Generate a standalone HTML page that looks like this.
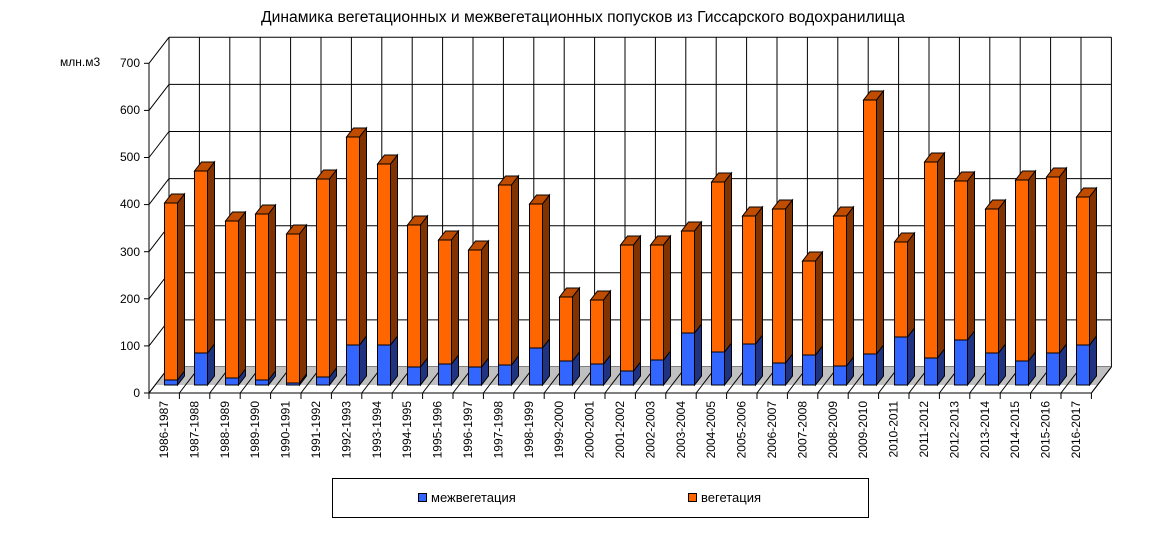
<!DOCTYPE html>
<html><head><meta charset="utf-8"><style>
html,body{margin:0;padding:0;background:#fff;}
svg{display:block;font-family:"Liberation Sans",sans-serif;}
</style></head><body>
<svg id="s" width="1151" height="547" viewBox="0 0 1151 547" xmlns="http://www.w3.org/2000/svg">
<rect width="1151" height="547" fill="#fff"/>
<text x="583" y="22" font-size="15.5" text-anchor="middle" textLength="644" lengthAdjust="spacingAndGlyphs">Динамика вегетационных и межвегетационных попусков из Гиссарского  водохранилища</text>
<text x="60" y="66" font-size="12">млн.м3</text>
<g id="grid"></g>
<g id="bars"></g>
<g font-size="12" text-anchor="end">
<text x="140" y="67">700</text>
<text x="140" y="114">600</text>
<text x="140" y="161">500</text>
<text x="140" y="208">400</text>
<text x="140" y="256">300</text>
<text x="140" y="303">200</text>
<text x="140" y="350">100</text>
<text x="140" y="397">0</text>
</g>
<g font-size="12" text-anchor="end">
<text transform="translate(168,401) rotate(-90)">1986-1987</text>
<text transform="translate(198.4,401) rotate(-90)">1987-1988</text>
<text transform="translate(228.8,401) rotate(-90)">1988-1989</text>
<text transform="translate(259.2,401) rotate(-90)">1989-1990</text>
<text transform="translate(289.6,401) rotate(-90)">1990-1991</text>
<text transform="translate(320,401) rotate(-90)">1991-1992</text>
<text transform="translate(350.4,401) rotate(-90)">1992-1993</text>
<text transform="translate(380.8,401) rotate(-90)">1993-1994</text>
<text transform="translate(411.2,401) rotate(-90)">1994-1995</text>
<text transform="translate(441.6,401) rotate(-90)">1995-1996</text>
<text transform="translate(472,401) rotate(-90)">1996-1997</text>
<text transform="translate(502.4,401) rotate(-90)">1997-1998</text>
<text transform="translate(532.8,401) rotate(-90)">1998-1999</text>
<text transform="translate(563.2,401) rotate(-90)">1999-2000</text>
<text transform="translate(593.6,401) rotate(-90)">2000-2001</text>
<text transform="translate(624,401) rotate(-90)">2001-2002</text>
<text transform="translate(654.4,401) rotate(-90)">2002-2003</text>
<text transform="translate(684.8,401) rotate(-90)">2003-2004</text>
<text transform="translate(715.2,401) rotate(-90)">2004-2005</text>
<text transform="translate(745.6,401) rotate(-90)">2005-2006</text>
<text transform="translate(776,401) rotate(-90)">2006-2007</text>
<text transform="translate(806.4,401) rotate(-90)">2007-2008</text>
<text transform="translate(836.8,401) rotate(-90)">2008-2009</text>
<text transform="translate(867.2,401) rotate(-90)">2009-2010</text>
<text transform="translate(897.6,401) rotate(-90)">2010-2011</text>
<text transform="translate(928,401) rotate(-90)">2011-2012</text>
<text transform="translate(958.4,401) rotate(-90)">2012-2013</text>
<text transform="translate(988.8,401) rotate(-90)">2013-2014</text>
<text transform="translate(1019.2,401) rotate(-90)">2014-2015</text>
<text transform="translate(1049.6,401) rotate(-90)">2015-2016</text>
<text transform="translate(1080,401) rotate(-90)">2016-2017</text>
</g>
<rect x="332.5" y="478.5" width="536" height="39" fill="#fff" stroke="#000"/>
<rect x="418.5" y="493.5" width="8" height="8" fill="#3366FF" stroke="#000"/>
<text x="431" y="502" font-size="13">межвегетация</text>
<rect x="688.5" y="493.5" width="8" height="8" fill="#FF6600" stroke="#000"/>
<text x="701" y="502" font-size="13">вегетация</text>
</svg>
<script>
(function(){
var NS="http://www.w3.org/2000/svg";
var g=document.getElementById("grid"),b=document.getElementById("bars");
function el(p,t,a){var e=document.createElementNS(NS,t);for(var k in a)e.setAttribute(k,a[k]);p.appendChild(e);return e;}
var X0=149,Y0=393,DX=20,DY=-26,S=0.471,W=30.4,N=31,XE=X0+W*N;
for(var v=0;v<=700;v+=100){var y=Y0-v*S;
 el(g,"line",{x1:X0+DX,y1:y+DY,x2:XE+DX,y2:y+DY,stroke:"#000","stroke-width":1});
 el(g,"line",{x1:X0,y1:y,x2:X0+DX,y2:y+DY,stroke:"#000","stroke-width":1});
 el(g,"line",{x1:X0-5,y1:y,x2:X0,y2:y,stroke:"#000","stroke-width":1});}
for(var i=0;i<=N;i++){var x=X0+DX+i*W;el(g,"line",{x1:x,y1:Y0+DY-700*S,x2:x,y2:Y0+DY,stroke:"#000","stroke-width":1});}
el(g,"polygon",{points:(X0+6)+",385 "+(X0+DX)+","+(Y0+DY)+" "+(XE+DX)+","+(Y0+DY)+" "+(XE+6)+",385",fill:"#C0C0C0",stroke:"none"});
el(g,"line",{x1:XE+DX,y1:Y0+DY,x2:XE,y2:Y0,stroke:"#000"});
for(var i=0;i<=N;i++){var x=X0+i*W;el(g,"line",{x1:x,y1:Y0,x2:x+DX,y2:Y0+DY,stroke:"#000"});el(g,"line",{x1:x,y1:Y0,x2:x,y2:Y0+6,stroke:"#000"});}
el(g,"line",{x1:X0,y1:Y0,x2:XE,y2:Y0,stroke:"#000"});
el(g,"line",{x1:X0,y1:Y0,x2:X0,y2:Y0-700*S,stroke:"#000"});
var tops=[203,171,221,214,234,179,137,164,225,240,250,185,204,297,300,245,245,231,182,216,209,261,216,100,242,162,181,209,180,177,197];
var blues=[380,353,378,380,383,377,345,345,367,364,367,365,348,361,364,371,360,333,352,344,363,355,366,354,337,358,340,353,361,353,345];
var base=385,bw=13,dx=7,dy=-9;
function box(x,y1,y2,cf,ct,cs,top){
 el(b,"rect",{x:x,y:y1,width:bw,height:y2-y1,fill:cf,stroke:"#000","stroke-width":1});
 if(top)el(b,"polygon",{points:x+","+y1+" "+(x+dx)+","+(y1+dy)+" "+(x+bw+dx)+","+(y1+dy)+" "+(x+bw)+","+y1,fill:ct,stroke:"#000","stroke-width":1});
 el(b,"polygon",{points:(x+bw)+","+y1+" "+(x+bw+dx)+","+(y1+dy)+" "+(x+bw+dx)+","+(y2+dy)+" "+(x+bw)+","+y2,fill:cs,stroke:"#000","stroke-width":1});}
for(var i=0;i<N;i++){var x=Math.round(X0+i*W+15)+0.5;
 box(x,blues[i],base,"#3366FF","#2650C0","#1F3380",false);
 box(x,tops[i],blues[i],"#FF6600","#C04C00","#803300",true);}
})();
</script>
</body></html>
